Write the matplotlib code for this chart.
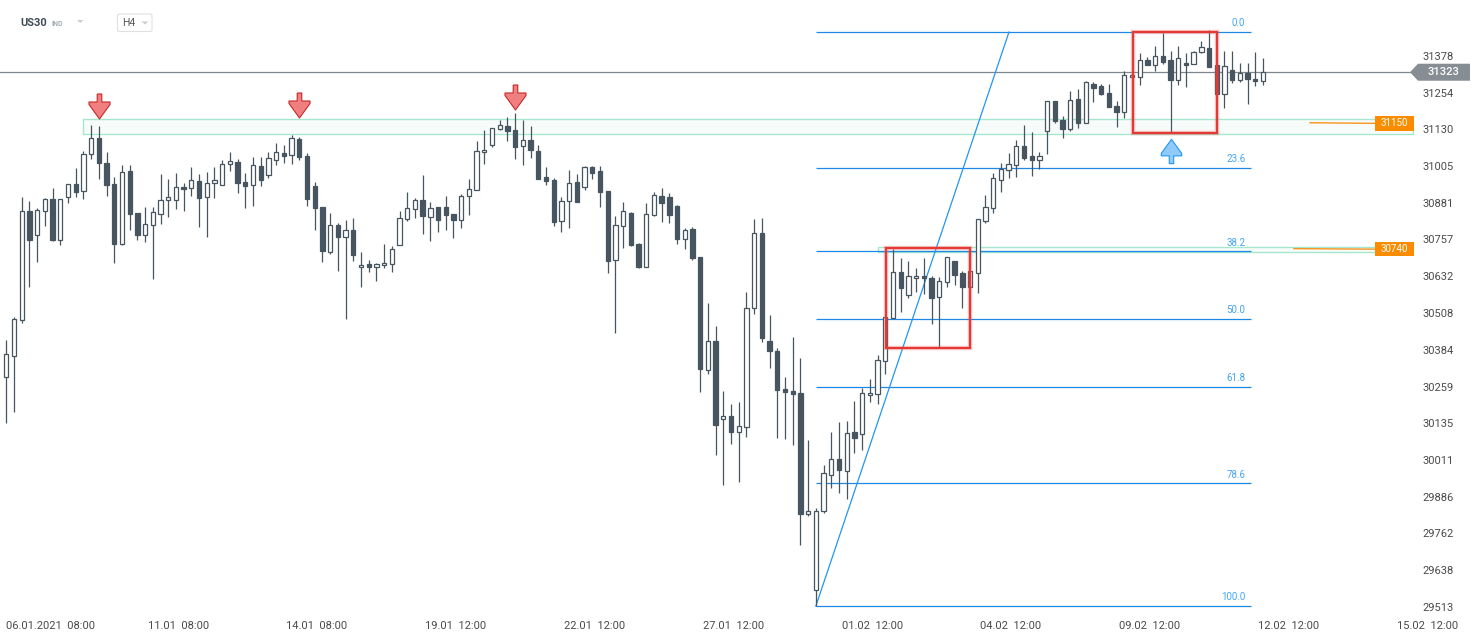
import matplotlib
matplotlib.use('Agg')
import matplotlib.pyplot as plt
import numpy as np
from matplotlib.patches import Rectangle, Polygon, FancyBboxPatch
from matplotlib.path import Path
from matplotlib.transforms import IdentityTransform

plt.rcParams['font.family'] = ['Roboto', 'DejaVu Sans']

# US30 H4 candles
opens = [30290, 30364, 30483, 30852, 30771, 30852, 30893, 30754, 30900, 30944,
         30920, 31045, 31099, 31015, 30944, 30741, 30988, 30846, 30771, 30805,
         30842, 30890, 30890, 30934, 30930, 30954, 30900, 30947, 30940, 31011,
         31018, 30950, 30940, 31005, 30974, 31025, 31049, 31042, 31096, 31039,
         30937, 30866, 30716, 30805, 30764, 30788, 30663, 30673, 30663, 30670,
         30673, 30737, 30825, 30859, 30890, 30832, 30866, 30866, 30842, 30822,
         30903, 30923, 31052, 31076, 31130, 31140, 31126, 31072, 31093, 31055,
         30967, 30957, 30818, 30886, 30950, 30934, 31001, 30988, 30920, 30686,
         30801, 30846, 30741, 30663, 30839, 30904, 30901, 30870, 30757, 30791,
         30697, 30314, 30412, 30148, 30158, 30104, 30121, 30524, 30778, 30412,
         30378, 30250, 30243, 30236, 29827, 29570, 29837, 29959, 30013, 29972,
         30104, 30098, 30230, 30233, 30345, 30490, 30646, 30568, 30626, 30632,
         30626, 30561, 30612, 30683, 30642, 30595, 30642, 30818, 30862, 30957,
         30991, 31008, 31072, 31039, 31025, 31123, 31225, 31160, 31130, 31231,
         31150, 31282, 31275, 31252, 31209, 31187, 31306, 31306, 31363, 31347,
         31377, 31363, 31296, 31353, 31350, 31390, 31404, 31347, 31248, 31330,
         31296, 31319, 31299, 31292]
highs = [30417, 30494, 30901, 30887, 30865, 30897, 30931, 30895, 30944, 30998,
         31056, 31144, 31140, 31052, 30967, 31008, 31008, 30846, 30866, 30866,
         30978, 30961, 30982, 30947, 31001, 30978, 30984, 31001, 31025, 31052,
         31028, 30981, 31035, 31035, 31052, 31083, 31076, 31111, 31103, 31049,
         30950, 30866, 30846, 30812, 30822, 30829, 30714, 30686, 30676, 30741,
         30734, 30852, 30917, 30896, 30974, 30883, 30866, 30903, 30842, 30910,
         30961, 31089, 31126, 31133, 31160, 31170, 31184, 31160, 31140, 31076,
         31001, 30964, 30900, 30991, 30978, 31005, 31005, 31005, 30920, 30835,
         30883, 30849, 30744, 30879, 30918, 30931, 30914, 30874, 30795, 30798,
         30697, 30541, 30463, 30243, 30199, 30206, 30578, 30825, 30829, 30500,
         30389, 30290, 30426, 30356, 30078, 29847, 29993, 30104, 30138, 30142,
         30209, 30253, 30284, 30365, 30494, 30724, 30693, 30683, 30659, 30693,
         30632, 30629, 30697, 30683, 30649, 30649, 30825, 30906, 30981, 31015,
         31049, 31093, 31143, 31120, 31052, 31225, 31225, 31174, 31259, 31265,
         31292, 31289, 31282, 31282, 31227, 31326, 31313, 31387, 31374, 31411,
         31455, 31394, 31411, 31387, 31394, 31428, 31465, 31347, 31394, 31394,
         31353, 31353, 31390, 31370]
lows = [30137, 30174, 30473, 30597, 30682, 30804, 30751, 30737, 30879, 30902,
        30895, 31028, 30963, 30905, 30676, 30737, 30788, 30754, 30747, 30622,
        30808, 30832, 30861, 30854, 30903, 30800, 30766, 30896, 30940, 30988,
        30913, 30862, 30871, 30937, 30964, 31008, 31015, 31011, 31025, 30871,
        30790, 30682, 30709, 30651, 30489, 30685, 30595, 30646, 30615, 30659,
        30646, 30737, 30818, 30829, 30774, 30751, 30781, 30788, 30761, 30795,
        30839, 30923, 31011, 31069, 31126, 31089, 31028, 31008, 31032, 30961,
        30940, 30801, 30781, 30795, 30883, 30923, 30961, 30866, 30642, 30439,
        30727, 30734, 30659, 30663, 30836, 30817, 30812, 30741, 30724, 30686,
        30240, 30301, 30026, 29925, 30064, 29935, 30087, 30504, 30409, 30321,
        30084, 30081, 30060, 29722, 29822, 29517, 29830, 29915, 29898, 29878,
        30033, 30043, 30206, 30199, 30301, 30490, 30510, 30558, 30578, 30571,
        30470, 30394, 30595, 30602, 30524, 30595, 30575, 30812, 30846, 30917,
        30964, 30967, 31025, 30971, 30994, 31045, 31150, 31099, 31123, 31133,
        31150, 31221, 31245, 31204, 31139, 31169, 31306, 31279, 31347, 31326,
        31350, 31116, 31279, 31272, 31350, 31387, 31340, 31248, 31201, 31286,
        31289, 31215, 31275, 31279]
closes = [30368, 30487, 30852, 30754, 30856, 30893, 30754, 30893, 30944, 30917,
          31045, 31099, 31015, 30940, 30741, 30984, 30842, 30771, 30808, 30849,
          30890, 30900, 30934, 30927, 30957, 30896, 30947, 30957, 31011, 31021,
          30947, 30937, 31008, 30957, 31032, 31052, 31039, 31099, 31035, 30893,
          30862, 30719, 30805, 30764, 30788, 30705, 30670, 30663, 30673, 30676,
          30724, 30829, 30862, 30890, 30835, 30862, 30822, 30839, 30822, 30903,
          30927, 31055, 31059, 31133, 31143, 31123, 31069, 31093, 31059, 30961,
          30954, 30815, 30886, 30947, 30883, 31001, 30981, 30917, 30683, 30805,
          30852, 30737, 30663, 30842, 30907, 30881, 30839, 30757, 30788, 30693,
          30318, 30412, 30128, 30158, 30104, 30125, 30524, 30778, 30422, 30378,
          30246, 30240, 30233, 29829, 29837, 29837, 29966, 30013, 29976, 30101,
          30084, 30236, 30236, 30348, 30494, 30646, 30592, 30632, 30632, 30626,
          30558, 30615, 30697, 30636, 30595, 30649, 30825, 30866, 30964, 30994,
          31011, 31072, 31032, 31025, 31039, 31225, 31157, 31130, 31228, 31150,
          31289, 31269, 31248, 31204, 31187, 31313, 31313, 31363, 31347, 31377,
          31357, 31296, 31370, 31347, 31390, 31407, 31340, 31248, 31343, 31296,
          31319, 31299, 31292, 31323]

y_ticks = [29513, 29638, 29762, 29886, 30011, 30135, 30259, 30384, 30508,
           30632, 30757, 30881, 31005, 31130, 31254, 31378]
x_labels = ['06.01.2021  08:00', '11.01  08:00', '14.01  08:00', '19.01  12:00',
            '22.01  12:00', '27.01  12:00', '01.02  12:00', '04.02  12:00',
            '09.02  12:00', '12.02  12:00', '15.02  12:00']

fib_high = 31459
fib_low = 29516
fib_levels = [0.0, 23.6, 38.2, 50.0, 61.8, 78.6, 100.0]

zone_prices = [(31113, 31164), (30713, 30732)]
zone_labels = ['31150', '30740']
last_price = 31323

dark = '#46555f'
W, H = 1482, 643

fig = plt.figure(figsize=(W / 100, H / 100), dpi=100)
ax = fig.add_axes([0, (H - 614) / H, 1414 / W, (614 - 8) / H])
ax.set_xlim(-0.817, 182.58)
ax.set_ylim(29489.2, 31540.4)
for s in ax.spines.values():
    s.set_visible(False)

# axes
ax.yaxis.tick_right()
ax.set_yticks(y_ticks)
ax.tick_params(axis='y', length=0, pad=5.8, labelsize=8, labelcolor='#4a4a4a')
ax.set_xticks([])
for k, lab in enumerate(x_labels):
    pos = 4.3 + 18 * k
    if k == 0:
        ax.text(-0.05, -0.02, lab, transform=ax.get_xaxis_transform(), ha='left', va='center',
                fontsize=8, color='#4a4a4a', clip_on=False)
    else:
        ax.text(pos, -0.02, lab, transform=ax.get_xaxis_transform(), ha='center', va='center',
                fontsize=8, color='#4a4a4a', clip_on=False)

# last price line
ax.axhline(last_price, color='#7d888e', lw=0.9, zorder=1)

# support / resistance zones
zone_starts = [9.95, 113.06]
for (lo, hi), x0 in zip(zone_prices, zone_starts):
    ax.add_patch(Rectangle((x0, lo), 182.45 - x0, hi - lo, fc='#f7fcfa', ec='#a6e6cd', lw=1, zorder=1))

# fibonacci
fx0, fx1 = 105.0, 161.4
for lvl in fib_levels:
    p = fib_high - lvl / 100 * (fib_high - fib_low)
    ax.hlines(p, fx0, fx1, color='#1e88e5', lw=0.9, zorder=1.5)
    ax.annotate(f'{lvl:.1f}', (160.7, p), xytext=(0, 6.2), textcoords='offset points',
                ha='right', va='center', fontsize=7, color='#42a5f5')
ax.plot([fx0, 130.05], [fib_low, fib_high], color='#2196f3', lw=0.9, zorder=1.5)

# candles
idx = np.arange(len(opens))
o = np.array(opens, float)
c = np.array(closes, float)
up = c >= o
ax.vlines(idx, lows, highs, color=dark, lw=0.9, zorder=2)
bottoms = np.minimum(o, c)
heights = np.maximum(np.abs(c - o), 3)
ax.bar(idx, heights, 0.56, bottoms, color=np.where(up, 'white', dark),
       edgecolor=dark, linewidth=0.9, zorder=3)

# red boxes
for x0, x1, lo, hi in [(114.06, 125.03, 30389.6, 30729), (146.1, 157.0, 31118, 31458)]:
    ax.add_patch(Rectangle((x0, lo), x1 - x0, hi - lo, fill=False, ec='#ef5350', lw=3.2,
                           alpha=0.35, zorder=4))
    ax.add_patch(Rectangle((x0, lo), x1 - x0, hi - lo, fill=False, ec='#e53935', lw=1.5, zorder=4))

# orange alert lines / labels
for lab, y, xs in [('31150', 31150, 169.1), ('30740', 30724, 167.0)]:
    ax.plot([xs, 177.5], [y + 2, y], color='#f7941d', lw=1, zorder=4)
    ax.add_patch(Rectangle((177.5, y - 24.4), 5.08, 48.8, fc='#fb8c00', ec='none',
                           zorder=5, clip_on=False))
    ax.text(180.04, y, lab, ha='center', va='center', fontsize=7, color='white', zorder=6)

# arrows
down = Path([(-2.3, 12.5), (2.3, 12.5), (2.3, 4.5), (10.5, 4.5), (10.5, 2.0), (0, -12.5),
             (-10.5, 2.0), (-10.5, 4.5), (-2.3, 4.5), (-2.3, 12.5)])
upv = Path([(x, -y) for x, y in down.vertices])
for xi, yp in [(12, 31210), (38, 31212), (66, 31239)]:
    ax.plot(xi, yp, marker=down, ms=18, mfc='#f08080', mec='#c62828', mew=0.8, zorder=6)
ax.plot(151, 31058, marker=upv, ms=17.5, mfc='#90caf9', mec='#2196f3', mew=0.8, zorder=6)

# current price tag
yp = ax.transData.transform((0, last_price))[1]
tag = [(1410, yp), (1418, yp + 8.5), (1470, yp + 8.5), (1470, yp - 8.5), (1418, yp - 8.5)]
fig.add_artist(Polygon(tag, closed=True, transform=IdentityTransform(), fc='#868e93', ec='none'))
fig.text(1444, yp, str(last_price), transform=IdentityTransform(), ha='center', va='center',
         fontsize=8, color='white', fontweight='medium')

# header
def fp(x, y):
    return x / W, 1 - y / H

fig.text(*fp(20.5, 23), 'US30', ha='left', va='center', fontsize=8, fontweight='bold', color='#3e4c57')
fig.text(*fp(52, 24.5), 'IND', ha='left', va='center', fontsize=5, fontweight='bold', color='#a3adb4')
fig.add_artist(Polygon([fp(77, 20), fp(83.5, 20), fp(80.2, 23)], closed=True, fc='#c9ced2', ec='none'))
fig.add_artist(FancyBboxPatch(fp(117.5, 31.5), 34.5 / W, 17.5 / H,
                              boxstyle='round,pad=0,rounding_size=0.002',
                              fc='white', ec='#dde1e4', lw=0.8))
fig.text(*fp(122, 23), 'H4', ha='left', va='center', fontsize=7.5, color='#555555')
fig.add_artist(Polygon([fp(141.5, 21.5), fp(148.5, 21.5), fp(145, 24.5)], closed=True, fc='#c9ced2', ec='none'))

fig.savefig('out.png', dpi=100)
